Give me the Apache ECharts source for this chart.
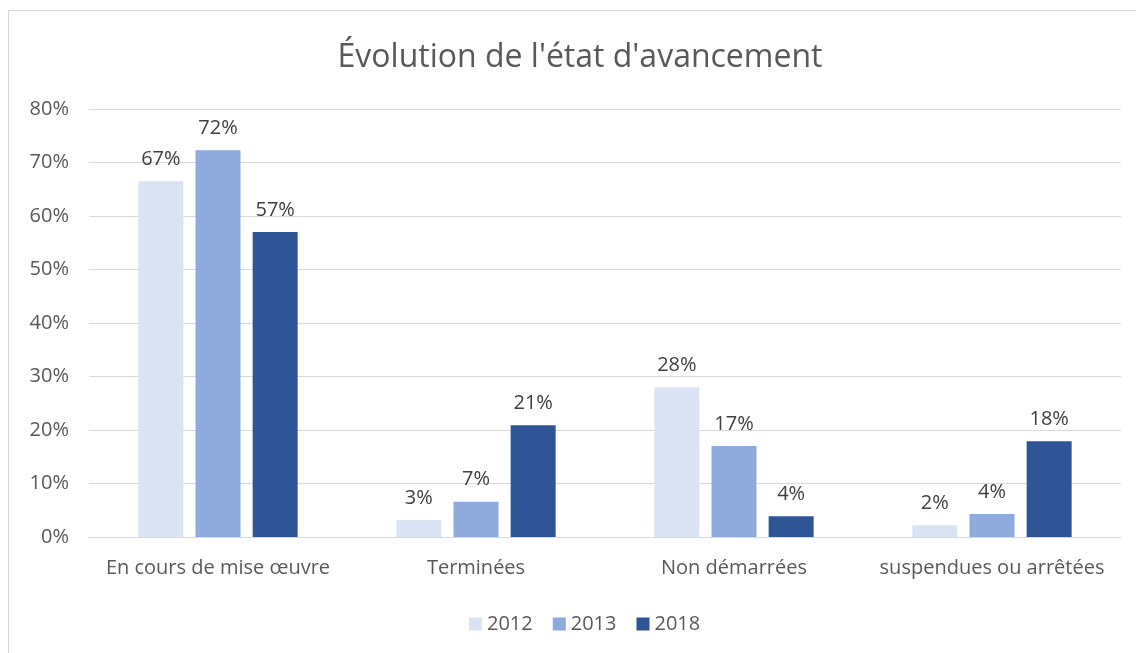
<!DOCTYPE html>
<html>
<head>
<meta charset="utf-8">
<script src="https://cdn.jsdelivr.net/npm/echarts@6/dist/echarts.min.js"></script>
<style>
  html, body { margin: 0; padding: 0; background: #fff; }
  #frame {
    position: absolute; left: 8px; top: 10px;
    width: 1140px; height: 660px;
    border: 1px solid #d9d9d9; box-sizing: border-box;
  }
  #chart { position: absolute; left: 0; top: 0; width: 1136px; height: 653px; }
</style>
</head>
<body>
<div id="frame"></div>
<div id="chart"></div>
<script>
const categories = ["En cours de mise œuvre", "Terminées", "Non démarrées", "suspendues ou arrêtées"]
const years = ["2012", "2013", "2018"]
const values2012 = [66.5, 3.2, 28.0, 2.2]
const values2013 = [72.3, 6.6, 17.0, 4.3]
const values2018 = [57.0, 20.9, 3.9, 17.9]
const colors = ["#DAE3F3", "#8FAADC", "#2F5597"]

const font = "'Open Sans', 'Noto Sans', sans-serif"
const myChart = echarts.init(document.getElementById("chart"))

const seriesData = [values2012, values2013, values2018]

const option = {
  backgroundColor: "transparent",
  animation: false,
  title: {
    text: "Évolution de l'état d'avancement",
    left: 575,
    top: 37,
    textAlign: "center",
    textStyle: { color: "#595959", fontSize: 32, fontWeight: "normal", fontFamily: font }
  },
  legend: {
    data: years,
    left: 464,
    top: 609,
    itemWidth: 13,
    itemHeight: 13,
    itemGap: 20,
    icon: "rect",
    textStyle: { color: "#595959", fontSize: 20, fontFamily: font }
  },
  grid: { left: 89, right: 15, top: 109, bottom: 116, containLabel: false },
  xAxis: {
    type: "category",
    data: categories,
    axisLine: { lineStyle: { color: "#d9d9d9", width: 1 } },
    axisTick: { show: false },
    axisLabel: { color: "#595959", fontSize: 20, fontFamily: font, margin: 21, interval: 0 }
  },
  yAxis: {
    type: "value",
    min: 0,
    max: 80,
    interval: 10,
    axisLine: { show: false },
    axisTick: { show: false },
    splitLine: { lineStyle: { color: "#d9d9d9", width: 1 } },
    axisLabel: {
      color: "#595959", fontSize: 20, fontFamily: font, margin: 20,
      formatter: v => v + "%"
    }
  },
  series: years.map((y, i) => ({
    name: y,
    type: "bar",
    data: seriesData[i],
    barWidth: 45,
    barGap: "27%",
    itemStyle: { color: colors[i] },
    label: {
      show: true,
      position: "top",
      distance: 12,
      color: "#404040",
      fontSize: 20,
      fontFamily: font,
      formatter: p => Math.round(p.value) + "%"
    }
  }))
}

myChart.setOption(option)
window.addEventListener("resize", () => myChart.resize())
</script>
</body>
</html>
